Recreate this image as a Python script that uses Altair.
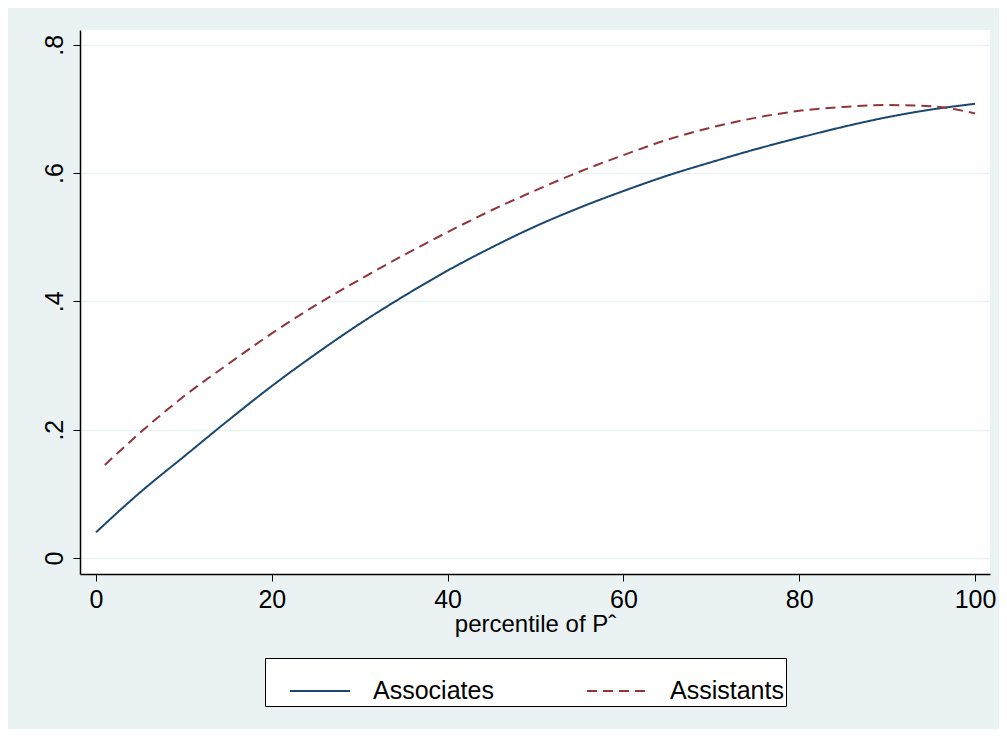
import pandas as pd
import altair as alt

pct = [0, 5, 10, 15, 20, 25, 30, 35, 40, 45, 50, 55, 60, 65, 70, 75, 80, 85, 90, 95, 100]
associates = [0.040, 0.102, 0.158, 0.214, 0.268, 0.318, 0.365, 0.408, 0.448, 0.484,
              0.517, 0.546, 0.572, 0.596, 0.617, 0.637, 0.655, 0.672, 0.687, 0.699, 0.708]
pct_b = [1, 5, 10, 15, 20, 25, 30, 35, 40, 45, 50, 55, 60, 65, 70, 75, 80, 85, 90, 95, 100]
assistants = [0.145, 0.195, 0.252, 0.302, 0.350, 0.394, 0.434, 0.472, 0.508, 0.542,
              0.573, 0.602, 0.628, 0.652, 0.671, 0.686, 0.697, 0.703, 0.706, 0.704, 0.693]

df = pd.concat([
    pd.DataFrame({"x": pct, "y": associates, "group": "Associates"}),
    pd.DataFrame({"x": pct_b, "y": assistants, "group": "Assistants"}),
])

chart = alt.Chart(df).mark_line(strokeWidth=2, interpolate="monotone").encode(
    x=alt.X("x:Q", title="percentile of Pˆ",
            scale=alt.Scale(domain=[-1.82, 101.7], nice=False, zero=False),
            axis=alt.Axis(values=[0, 20, 40, 60, 80, 100], grid=False)),
    y=alt.Y("y:Q", title=None,
            scale=alt.Scale(domain=[-0.025, 0.823], nice=False),
            axis=alt.Axis(values=[0, 0.2, 0.4, 0.6, 0.8], labelAngle=270,
                          labelExpr="datum.value == 0 ? '0' : replace(format(datum.value, '.1f'), '0.', '.')",
                          labelAlign="center", labelBaseline="bottom")),
    color=alt.Color("group:N", scale=alt.Scale(domain=["Associates", "Assistants"],
                                               range=["#1a476f", "#90353b"]),
                    legend=alt.Legend(title=None, orient="none", legendX=185, legendY=628,
                                      direction="horizontal", symbolType="stroke",
                                      symbolSize=3600, symbolStrokeWidth=2, symbolOffset=22,
                                      labelFontSize=25, labelFont="Liberation Sans",
                                      labelBaseline="middle",
                                      labelColor="black", columnPadding=70,
                                      padding=2, strokeColor="black", fillColor="white",
                                      labelOffset=22)),
    strokeDash=alt.StrokeDash("group:N", scale=alt.Scale(domain=["Associates", "Assistants"],
                                                         range=[[1, 0], [10, 6]]),
                              legend=None),
).properties(
    width=910, height=544,
    autosize=alt.AutoSizeParams(type="none"),
    padding={"left": 72, "top": 22, "right": 9, "bottom": 155},
    background="#eaf2f3",
).configure_view(
    fill="white", stroke=None
).configure_axis(
    domainColor="black", domainWidth=1.5, tickColor="black", tickSize=7,
    labelFont="Liberation Sans", labelFontSize=25, labelColor="black",
    titleFont="Liberation Sans", titleFontSize=24, titleColor="black", titleFontWeight="normal",
    gridColor="#eaf2f3", gridWidth=1.5, labelPadding=6
).configure_axisX(titlePadding=0)

chart.save("out.html", embed_options={"renderer": "svg", "actions": False})
